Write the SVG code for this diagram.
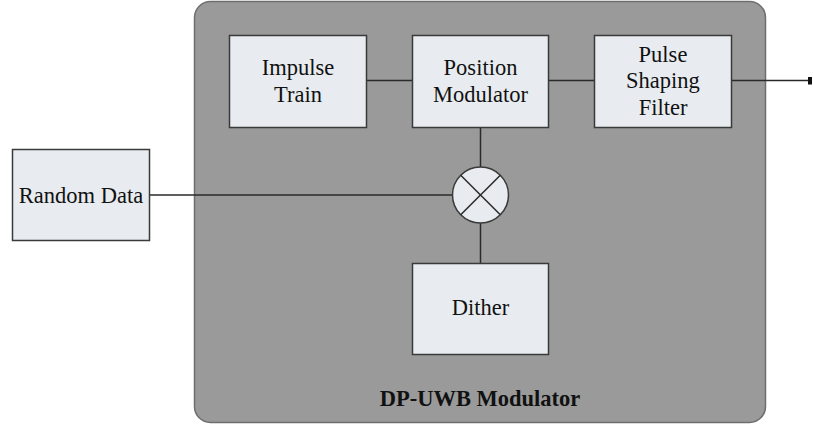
<svg xmlns="http://www.w3.org/2000/svg" width="813" height="427" viewBox="0 0 813 427">
  <style>
    .blk { fill: #e8ecf0; stroke: #3a3a3a; stroke-width: 1.5; }
    .lbl { font-family: "Liberation Serif", "Times New Roman", "DejaVu Serif", serif; font-size: 22.5px; fill: #111; text-anchor: middle; }
    .wire { stroke: #2a2a2a; stroke-width: 1.5; fill: none; }
  </style>
  <defs>
    <marker id="endMark" markerWidth="4" markerHeight="8" refX="2" refY="4" orient="auto" markerUnits="userSpaceOnUse">
      <rect x="0" y="0" width="4" height="8" fill="#111"/>
    </marker>
  </defs>

  <!-- enclosing modulator block -->
  <g id="modulator">
    <rect x="194.5" y="1.5" width="571" height="421" rx="16" fill="#9a9a9a" stroke="#6e6e6e" stroke-width="1.5"/>
    <text class="lbl" x="480" y="406" font-weight="bold">DP-UWB Modulator</text>
  </g>

  <g id="connectors">
    <line class="wire" x1="366" y1="80.5" x2="412" y2="80.5"/>
    <line class="wire" x1="548" y1="80.5" x2="594" y2="80.5"/>
    <line class="wire" x1="731" y1="80.5" x2="810" y2="80.5" marker-end="url(#endMark)"/>
    <line class="wire" x1="480.5" y1="127" x2="480.5" y2="167"/>
    <line class="wire" x1="480.5" y1="223" x2="480.5" y2="263"/>
    <line class="wire" x1="150" y1="195" x2="452" y2="195"/>
  </g>

  <g id="impulse-train">
    <rect class="blk" x="229.5" y="35.5" width="137" height="92"/>
    <text class="lbl" x="298" y="74.5">Impulse</text>
    <text class="lbl" x="298" y="101.5">Train</text>
  </g>

  <g id="position-modulator">
    <rect class="blk" x="412.5" y="35.5" width="136" height="92"/>
    <text class="lbl" x="480.5" y="74.5">Position</text>
    <text class="lbl" x="480.5" y="101.5">Modulator</text>
  </g>

  <g id="pulse-shaping-filter">
    <rect class="blk" x="594.5" y="35.5" width="137" height="92"/>
    <text class="lbl" x="663" y="61.5">Pulse</text>
    <text class="lbl" x="663" y="88">Shaping</text>
    <text class="lbl" x="663" y="115">Filter</text>
  </g>

  <g id="random-data">
    <rect class="blk" x="12.5" y="149.5" width="137" height="91"/>
    <text class="lbl" x="81" y="203">Random Data</text>
  </g>

  <!-- multiplier: circle with diagonal cross -->
  <g id="mixer">
    <circle cx="480.5" cy="195" r="28" class="blk"/>
    <line class="wire" x1="460.7" y1="175.2" x2="500.3" y2="214.8"/>
    <line class="wire" x1="500.3" y1="175.2" x2="460.7" y2="214.8"/>
  </g>

  <g id="dither">
    <rect class="blk" x="412.5" y="263.5" width="136" height="91"/>
    <text class="lbl" x="480.5" y="315">Dither</text>
  </g>
</svg>
